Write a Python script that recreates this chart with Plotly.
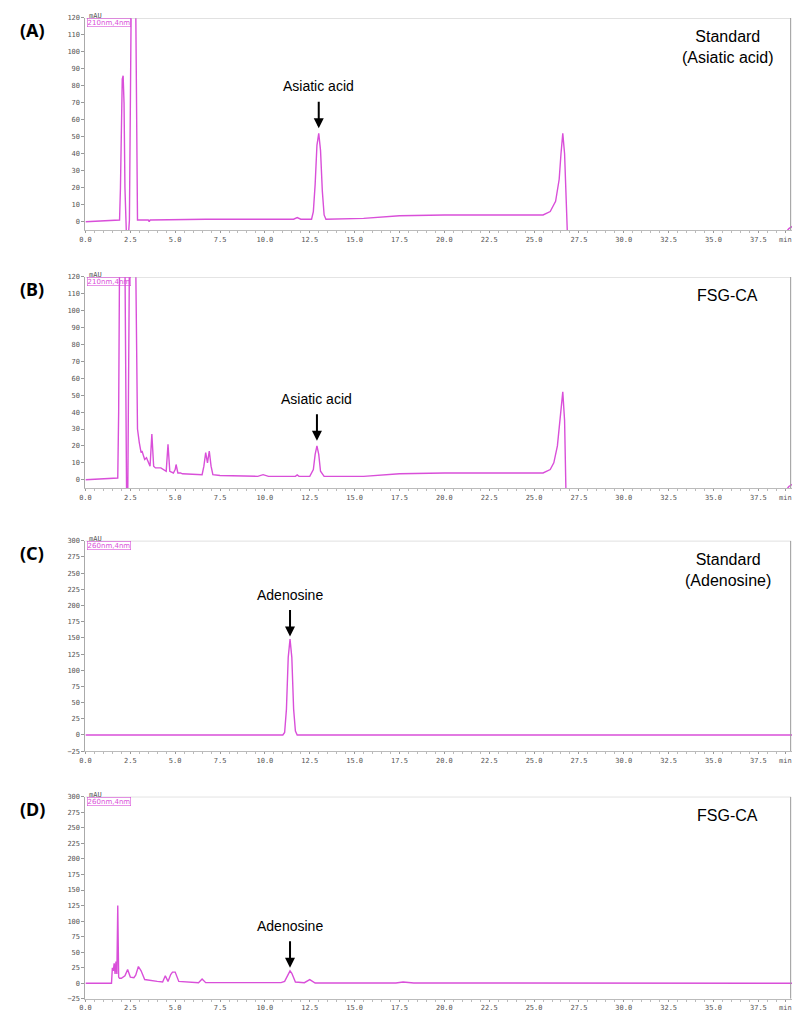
import plotly.graph_objects as go

# Chromatogram traces (time in min, signal in mAU)
a_time = [0, 1.9, 1.95, 2.0, 2.05, 2.1, 2.15, 2.2, 2.25, 2.3, 2.32, 2.45, 2.5, 2.55, 2.8, 2.85, 2.9,
          3.0, 3.5, 3.55, 3.6, 6.7, 11.6, 11.8, 12.0, 12.6, 12.7, 12.8, 12.9, 13.0, 13.1, 13.2, 13.3, 13.4,
          15.5, 17.5, 20.0, 25.5, 25.9, 26.2, 26.4, 26.5, 26.6, 26.7, 26.8, 26.9, None, 38.9, 39.2, 39.5, 40.0]
a_signal = [0, 1, 20, 70, 84, 86, 70, 20, 1, -20, -20, 1, 60, 130, 130, 60, 1,
            1, 1, 0, 1, 1.5, 1.5, 2.5, 1.5, 1.5, 6, 22, 45, 52, 42, 18, 4, 1.5,
            2, 3.5, 4, 4, 6, 12, 25, 40, 52, 40, 5, -20, None, -8, -4, -2, -1]

b_time = [0, 1.8, 1.85, 1.9, 2.2, 2.25, 2.3, 2.35, 2.4, 2.45, 2.8, 2.85, 2.9, 3.0, 3.1, 3.15, 3.2,
          3.3, 3.4, 3.5, 3.6, 3.7, 3.8, 3.9, 4.2, 4.5, 4.55, 4.6, 4.7, 4.9, 5.0, 5.05, 5.15,
          5.3, 5.4, 6.5, 6.6, 6.7, 6.8, 6.9, 7.0, 7.1, 7.5, 9.6, 9.9, 10.2, 11.7, 11.8, 11.9,
          12.5, 12.7, 12.8, 12.9, 13.0, 13.1, 13.3, 15.5, 17.5, 20.0, 25.5, 25.9, 26.1, 26.3,
          26.4, 26.5, 26.6, 26.7, 26.8, None, 38.9, 39.2, 39.5, 40.0]
b_signal = [0, 1, 40, 130, 130, 40, -20, -20, 40, 130, 130, 60, 30, 22, 16, 17, 15,
            12, 13, 10, 8, 27, 8, 7, 7, 5, 12, 21, 5, 4, 6, 9, 4,
            4, 3.5, 3, 8, 16, 10, 17, 8, 3, 2.5, 2, 3, 2, 2, 2.8, 2, 2, 6, 15, 20, 15, 5, 2,
            2, 3.5, 4, 4, 6, 10, 20, 32, 45, 52, 35, -20, None, -8, -4, -2, -1]

c_time = [0, 1.7, 1.8, 1.9, 10.8, 11.0, 11.1, 11.2, 11.3, 11.4, 11.5, 11.6, 11.7, 11.8, 12.0, 40.0]
c_signal = [0, 0, 1, 0, 0, 0, 4, 40, 120, 148, 120, 40, 6, 0, 0, 0]

d_time = [0, 1.45, 1.5, 1.55, 1.6, 1.65, 1.7, 1.75, 1.8, 1.85, 1.9, 2.0, 2.2, 2.35, 2.5, 2.7, 2.8,
          2.95, 3.1, 3.3, 4.0, 4.3, 4.45, 4.6, 4.75, 4.85, 5.0, 5.2, 6.3, 6.5, 6.7, 10.9, 11.1,
          11.3, 11.4, 11.5, 11.7, 12.2, 12.5, 12.8, 17.3, 17.7, 18.3, 40.0]
d_signal = [0, 0, 25, 20, 32, 15, 35, 15, 125, 10, 8, 8, 12, 22, 10, 9, 13,
            27, 20, 6, 3, 2, 12, 3, 14, 18, 18, 3, 1, 7, 1, 1, 3,
            16, 20, 16, 2, 1, 6, 0.5, 0.5, 2, 0.5, 0]

x_ticks = [0, 2.5, 5, 7.5, 10, 12.5, 15, 17.5, 20, 22.5, 25, 27.5, 30, 32.5, 35, 37.5, 39.0]
x_labels = ["0.0", "2.5", "5.0", "7.5", "10.0", "12.5", "15.0", "17.5", "20.0", "22.5",
            "25.0", "27.5", "30.0", "32.5", "35.0", "37.5", "min"]

panels = [
    dict(t=a_time, s=a_signal, yr=[-5, 120], dy=10, dom=[0.7835, 0.9941], label="(A)",
         wl="210nm,4nm", title="Standard<br>(Asiatic acid)", peak="Asiatic acid", pt=13.0, pv=55),
    dict(t=b_time, s=b_signal, yr=[-5, 120], dy=10, dom=[0.5276, 0.7372], label="(B)",
         wl="210nm,4nm", title="FSG-CA", peak="Asiatic acid", pt=12.9, pv=23),
    dict(t=c_time, s=c_signal, yr=[-25, 300], dy=25, dom=[0.2667, 0.4754], label="(C)",
         wl="260nm,4nm", title="Standard<br>(Adenosine)", peak="Adenosine", pt=11.4, pv=152),
    dict(t=d_time, s=d_signal, yr=[-25, 300], dy=25, dom=[0.021, 0.2215], label="(D)",
         wl="260nm,4nm", title="FSG-CA", peak="Adenosine", pt=11.4, pv=25),
]

magenta = "#d94fd9"
tick_font = dict(family="DejaVu Sans Mono", size=7, color="#555")
fig = go.Figure()
layout = {}
annotations = []
shapes = []

for i, p in enumerate(panels, start=1):
    sfx = "" if i == 1 else str(i)
    xref, yref = "x" + sfx, "y" + sfx
    fig.add_trace(go.Scatter(x=p["t"], y=p["s"], mode="lines", xaxis=xref, yaxis=yref,
                             line=dict(color=magenta, width=1.4), showlegend=False))
    lo, hi = p["yr"]
    first = lo if lo % p["dy"] == 0 else 0
    yvals = list(range(first, hi + 1, p["dy"]))
    layout["xaxis" + sfx] = dict(domain=[0.09, 0.994], range=[0, 40], anchor=yref,
                                 tickvals=x_ticks, ticktext=x_labels, tickfont=tick_font,
                                 ticks="outside", ticklen=2, tickcolor="#999",
                                 showline=True, linecolor="#bbb", showgrid=False, zeroline=False,
                                 minor=dict(dtick=0.5, ticks="outside", ticklen=2, tickcolor="#bbb"))
    layout["yaxis" + sfx] = dict(domain=p["dom"], range=[lo, hi], anchor=xref,
                                 tickvals=yvals, tickfont=tick_font, ticks="outside", ticklen=3,
                                 tickcolor="#999", showline=True, linecolor="#aaa",
                                 showgrid=False, zeroline=False)
    shapes.append(dict(type="line", xref=xref, yref=yref, x0=0, x1=39.3, y0=hi, y1=hi,
                       line=dict(color="#bbb", width=1)))
    shapes.append(dict(type="line", xref=xref, yref=yref, x0=39.3, x1=39.3, y0=lo, y1=hi,
                       line=dict(color="#999", width=1)))
    annotations += [
        dict(xref="paper", yref="paper", x=0.005, y=p["dom"][1] - 0.012, text="<b>" + p["label"] + "</b>",
             showarrow=False, xanchor="left", yanchor="middle", font=dict(family="Noto Sans", size=18, color="black")),
        dict(xref=xref, yref=yref, x=0.1, y=hi, text=p["wl"], showarrow=False, xanchor="left",
             yanchor="top", bordercolor=magenta, borderwidth=0.6, borderpad=0,
             font=dict(family="DejaVu Sans", size=7, color=magenta)),
        dict(xref=xref, yref="paper", x=35.8, y=p["dom"][1] - 0.008, text=p["title"], showarrow=False,
             xanchor="center", yanchor="top", font=dict(family="Liberation Sans", size=16, color="black")),
        dict(xref=xref, yref=yref, x=p["pt"], y=p["pv"], text="", showarrow=True, arrowhead=2,
             arrowsize=1, arrowwidth=2, arrowcolor="black", ax=0, ay=-28),
        dict(xref=xref, yref=yref, x=p["pt"], y=p["pv"], text=p["peak"], showarrow=False,
             yshift=32, yanchor="bottom", font=dict(family="Liberation Sans", size=14, color="black")),
        dict(xref=xref, yref=yref, x=0.1, y=hi, text="mAU", showarrow=False, xanchor="left",
             yanchor="bottom", yshift=-4, font=tick_font),
    ]

fig.update_layout(width=800, height=1016, margin=dict(l=0, r=0, t=0, b=0),
                  paper_bgcolor="white", plot_bgcolor="white",
                  annotations=annotations, shapes=shapes, **layout)
fig.write_html("out.html")
